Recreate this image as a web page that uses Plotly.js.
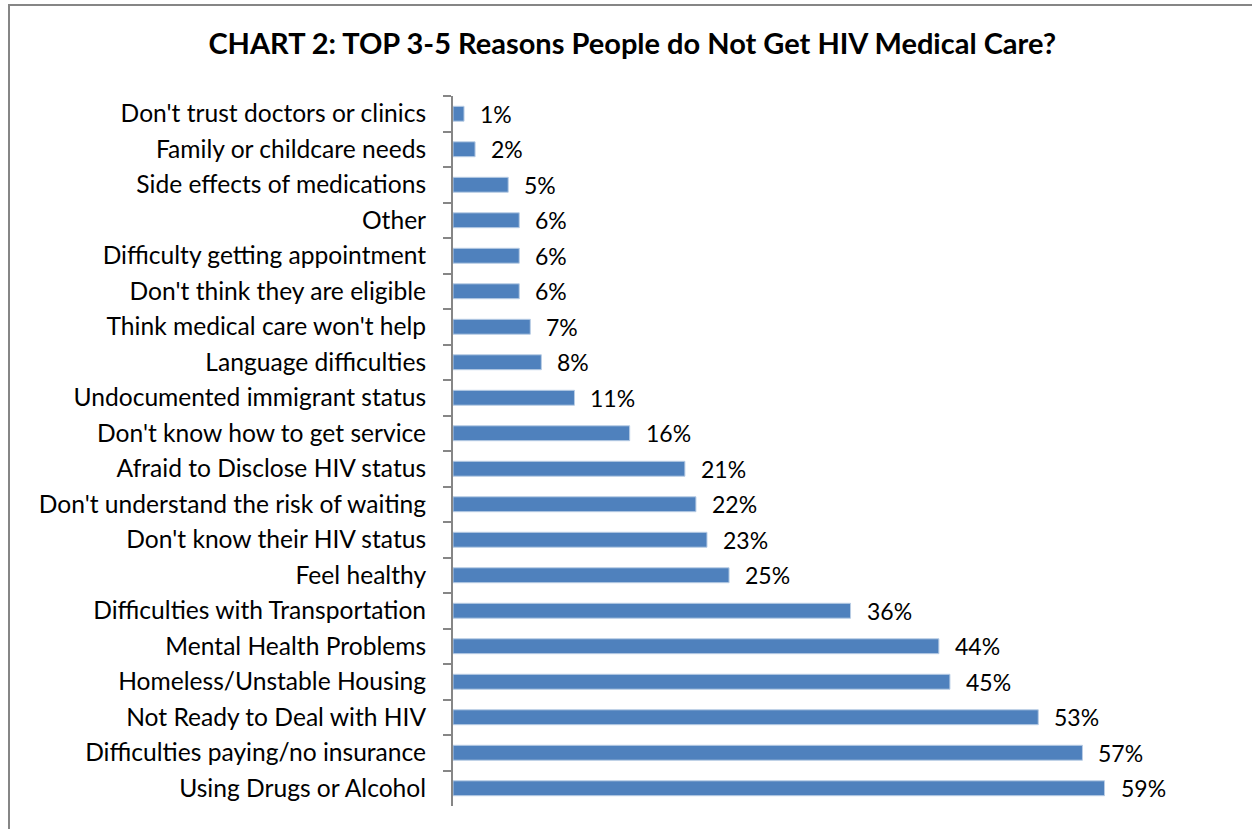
<!DOCTYPE html>
<html>
<head>
<meta charset="utf-8">
<script src="https://cdn.plot.ly/plotly-3.0.1.min.js"></script>
<style>
html,body{margin:0;padding:0;background:#fff;}
#frame{position:absolute;left:8px;top:4px;width:1300px;height:900px;border-left:2px solid #868686;border-top:2px solid #868686;box-sizing:border-box;}
#chart{position:absolute;left:0;top:0;width:1252px;height:829px;}
</style>
</head>
<body>
<div id="frame"></div>
<div id="chart"></div>
<script>
var categories = [
  "Don't trust doctors or clinics",
  "Family or childcare needs",
  "Side effects of medications",
  "Other",
  "Difficulty getting appointment",
  "Don't think they are eligible",
  "Think medical care won't help",
  "Language difficulties",
  "Undocumented immigrant status",
  "Don't know how to get service",
  "Afraid to Disclose HIV status",
  "Don't understand the risk of waiting",
  "Don't know their HIV status",
  "Feel healthy",
  "Difficulties with Transportation",
  "Mental Health Problems",
  "Homeless/Unstable Housing",
  "Not Ready to Deal with HIV",
  "Difficulties paying/no insurance",
  "Using Drugs or Alcohol"
];
var values = [0.01, 0.02, 0.05, 0.06, 0.06, 0.06, 0.07, 0.08, 0.11, 0.16, 0.21, 0.22, 0.23, 0.25, 0.36, 0.44, 0.45, 0.53, 0.57, 0.59];
var valueLabels = ["1%","2%","5%","6%","6%","6%","7%","8%","11%","16%","21%","22%","23%","25%","36%","44%","45%","53%","57%","59%"];

var fontFam = "Lato, 'Open Sans', sans-serif";

var trace = {
  type: 'bar',
  orientation: 'h',
  y: categories,
  x: values,
  width: 0.42,
  marker: {color: '#4F81BD', line: {color: '#B9CDE5', width: 1}},
  hoverinfo: 'skip'
};

var annotations = categories.map(function(c, i){
  return {x: values[i], y: c, xref: 'x', yref: 'y', text: valueLabels[i],
    showarrow: false, xanchor: 'left', xshift: 14, yshift: 0,
    font: {family: fontFam, size: 23, color: '#000'}};
});

var layout = {
  width: 1252, height: 829,
  paper_bgcolor: 'rgba(0,0,0,0)', plot_bgcolor: 'rgba(0,0,0,0)',
  margin: {l: 453, r: 26, t: 96, b: 23},
  title: {text: '<b>CHART 2: TOP 3-5 Reasons People do Not Get HIV Medical Care?</b>',
    x: 0.505, xanchor: 'center', y: 0.947, yanchor: 'middle',
    font: {family: fontFam, size: 29, color: '#000'}},
  showlegend: false,
  bargap: 0.58,
  xaxis: {range: [0, 0.70], visible: false, fixedrange: true},
  yaxis: {autorange: 'reversed', type: 'category', showline: true, linecolor: '#868686', linewidth: 2,
    ticks: 'outside', ticklen: 8, tickcolor: '#868686', tickwidth: 2, tickson: 'boundaries',
    ticklabelstandoff: 20,
    tickfont: {family: fontFam, size: 24.6, color: '#000'}, showgrid: false, zeroline: false},
  annotations: annotations
};

Plotly.newPlot('chart', [trace], layout, {displayModeBar: false, staticPlot: true});
</script>
</body>
</html>
